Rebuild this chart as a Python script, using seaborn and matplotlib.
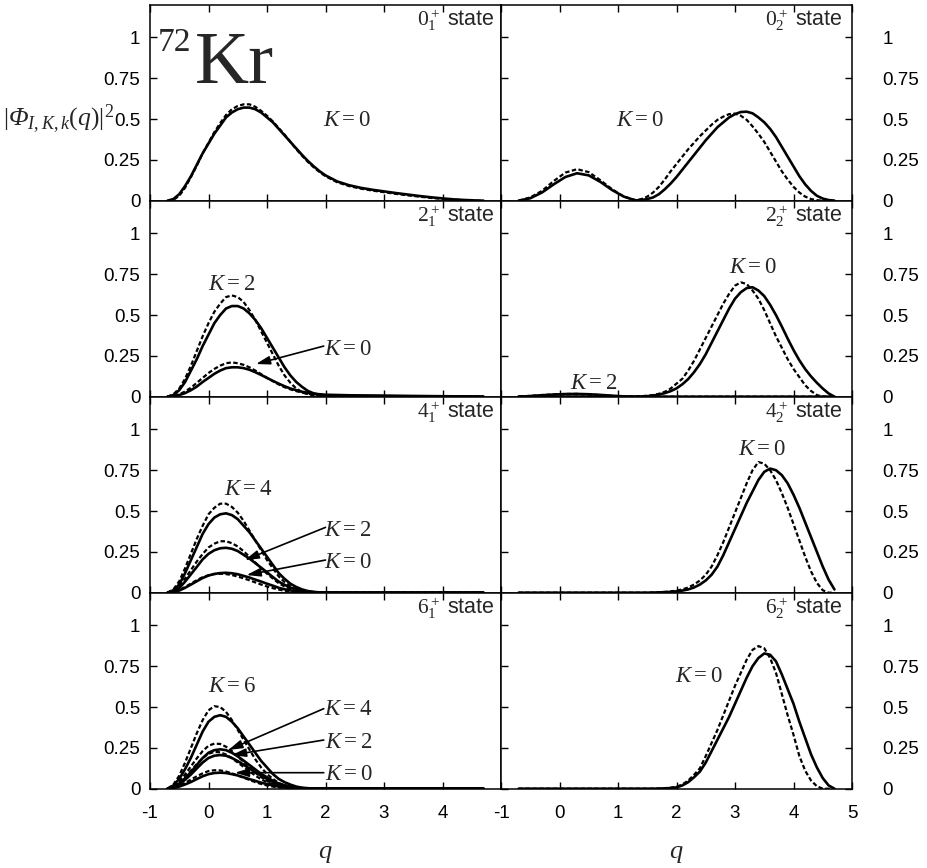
import matplotlib
matplotlib.use("Agg")
import matplotlib.pyplot as plt
import seaborn as sns

# ---------------- data ----------------
Q_TOP = [-0.7, -0.6, -0.5, -0.4, -0.3, -0.2, -0.1, 0.0, 0.1, 0.2,
         0.3, 0.4, 0.5, 0.6, 0.7, 0.8, 0.9, 1.0, 1.1, 1.2,
         1.3, 1.4, 1.5, 1.6, 1.7, 1.8, 1.9, 2.0,
         2.2, 2.4, 2.6, 2.8, 3.0, 3.2, 3.4, 3.6, 3.8, 4.0, 4.2, 4.4, 4.6,
         4.7]
Q_LOW = [-0.7, -0.6, -0.5, -0.4, -0.3, -0.2, -0.1, 0.0, 0.1, 0.2,
         0.3, 0.4, 0.5, 0.6, 0.7, 0.8, 0.9, 1.0, 1.1, 1.2,
         1.3, 1.4, 1.5, 1.6, 1.7, 1.8, 1.9, 2.0,
         2.5, 3.0, 3.5, 4.0, 4.5, 4.7]
Q_R = [-0.7, -0.5, -0.3, -0.1, 0.1, 0.3, 0.5, 0.7, 0.9, 1.1, 1.3,
       1.4, 1.5, 1.6, 1.7, 1.8, 1.9,
       2.0, 2.1, 2.2, 2.3, 2.4, 2.5, 2.6, 2.7, 2.8, 2.9,
       3.0, 3.1, 3.2, 3.3, 3.4, 3.5, 3.6, 3.7, 3.8, 3.9,
       4.0, 4.1, 4.2, 4.3, 4.4, 4.5, 4.6, 4.7]
Q_K2 = [-0.7, -0.5, -0.3, -0.1, 0.1, 0.3, 0.5, 0.7, 0.9, 1.1, 1.3, 2.0, 3.0, 4.0, 4.7]

# 0+_1 state
P01_SOLID = [0, 0.01, 0.04, 0.09, 0.15, 0.22, 0.29, 0.35, 0.41, 0.46,
             0.51, 0.54, 0.56, 0.57, 0.57, 0.56, 0.54, 0.51, 0.48, 0.44,
             0.40, 0.36, 0.32, 0.28, 0.243, 0.21, 0.18, 0.155,
             0.118, 0.095, 0.079, 0.067, 0.057, 0.047, 0.038, 0.029, 0.021, 0.014, 0.008, 0.004, 0.001,
             0]
P01_DASH = [0, 0.005, 0.03, 0.08, 0.145, 0.215, 0.29, 0.355, 0.42, 0.475,
            0.525, 0.56, 0.58, 0.59, 0.59, 0.575, 0.55, 0.52, 0.485, 0.445,
            0.405, 0.36, 0.315, 0.275, 0.237, 0.204, 0.175, 0.15,
            0.113, 0.09, 0.074, 0.062, 0.052, 0.042, 0.033, 0.025, 0.017, 0.011, 0.006, 0.002, 0,
            0]
# 2+_1 state
P21_K2_SOLID = [0, 0.01, 0.04, 0.09, 0.16, 0.23, 0.31, 0.38, 0.45, 0.50,
                0.54, 0.555, 0.555, 0.54, 0.51, 0.47, 0.42, 0.36, 0.30, 0.24,
                0.18, 0.13, 0.09, 0.06, 0.035, 0.02, 0.012, 0.008,
                0.005, 0.004, 0.003, 0.002, 0.001, 0]
P21_K2_DASH = [0, 0.015, 0.05, 0.11, 0.19, 0.28, 0.37, 0.45, 0.52, 0.57,
               0.61, 0.62, 0.61, 0.58, 0.53, 0.47, 0.40, 0.33, 0.26, 0.19,
               0.13, 0.085, 0.05, 0.028, 0.015, 0.008, 0.005, 0.004,
               0.003, 0.002, 0.001, 0.001, 0, 0]
P21_K0_SOLID = [0, 0.003, 0.01, 0.022, 0.04, 0.062, 0.09, 0.115, 0.14, 0.16,
                0.175, 0.18, 0.18, 0.175, 0.165, 0.15, 0.133, 0.115, 0.097, 0.08,
                0.064, 0.05, 0.04, 0.03, 0.024, 0.018, 0.015, 0.012,
                0.008, 0.006, 0.004, 0.003, 0.001, 0]
P21_K0_DASH = [0, 0.004, 0.015, 0.032, 0.055, 0.085, 0.115, 0.145, 0.17, 0.19,
               0.205, 0.21, 0.205, 0.195, 0.18, 0.16, 0.138, 0.115, 0.095, 0.075,
               0.058, 0.045, 0.034, 0.025, 0.018, 0.013, 0.01, 0.008,
               0.005, 0.004, 0.003, 0.002, 0.001, 0]
# 4+_1 state
P41_K4_SOLID = [0, 0.015, 0.05, 0.12, 0.2, 0.28, 0.36, 0.42, 0.46, 0.48,
                0.486, 0.475, 0.45, 0.41, 0.37, 0.32, 0.27, 0.22, 0.17, 0.12,
                0.085, 0.055, 0.035, 0.02, 0.01, 0.005, 0.002, 0.001,
                0, 0, 0, 0, 0, 0]
P41_K4_DASH = [0, 0.02, 0.07, 0.15, 0.24, 0.33, 0.41, 0.48, 0.52, 0.545,
               0.545, 0.525, 0.49, 0.44, 0.38, 0.32, 0.26, 0.2, 0.15, 0.1,
               0.065, 0.04, 0.022, 0.011, 0.005, 0.002, 0.001, 0,
               0, 0, 0, 0, 0, 0]
P41_K2_SOLID = [0, 0.008, 0.028, 0.068, 0.113, 0.158, 0.204, 0.238, 0.26, 0.272,
                0.275, 0.269, 0.255, 0.232, 0.209, 0.181, 0.153, 0.125, 0.096, 0.068,
                0.048, 0.031, 0.02, 0.011, 0.006, 0.003, 0.001, 0,
                0, 0, 0, 0, 0, 0]
P41_K2_DASH = [0, 0.012, 0.04, 0.087, 0.139, 0.191, 0.237, 0.277, 0.3, 0.315,
               0.315, 0.303, 0.283, 0.254, 0.22, 0.185, 0.15, 0.116, 0.087, 0.058,
               0.038, 0.023, 0.013, 0.006, 0.003, 0.001, 0, 0,
               0, 0, 0, 0, 0, 0]
P41_K0_SOLID = [0, 0.004, 0.013, 0.03, 0.05, 0.07, 0.09, 0.105, 0.115, 0.12,
                0.122, 0.119, 0.113, 0.103, 0.093, 0.08, 0.068, 0.055, 0.043, 0.03,
                0.021, 0.014, 0.009, 0.005, 0.003, 0.001, 0, 0,
                0, 0, 0, 0, 0, 0]
P41_K0_DASH = [0, 0.005, 0.016, 0.035, 0.056, 0.077, 0.095, 0.107, 0.114, 0.116,
               0.114, 0.108, 0.099, 0.088, 0.076, 0.063, 0.05, 0.038, 0.028, 0.019,
               0.012, 0.007, 0.004, 0.002, 0.001, 0, 0, 0,
               0, 0, 0, 0, 0, 0]
# 6+_1 state
P61_K6_SOLID = [0, 0.02, 0.06, 0.12, 0.19, 0.27, 0.35, 0.41, 0.44, 0.45,
                0.44, 0.41, 0.37, 0.32, 0.27, 0.22, 0.17, 0.13, 0.09, 0.06,
                0.04, 0.025, 0.013, 0.006, 0.003, 0.001, 0, 0,
                0, 0, 0, 0, 0, 0]
P61_K6_DASH = [0, 0.025, 0.08, 0.16, 0.25, 0.34, 0.42, 0.48, 0.505, 0.5,
               0.47, 0.42, 0.36, 0.3, 0.24, 0.18, 0.13, 0.09, 0.06, 0.035,
               0.02, 0.01, 0.004, 0.001, 0, 0, 0, 0,
               0, 0, 0, 0, 0, 0]
P61_K4_SOLID = [0, 0.011, 0.032, 0.064, 0.102, 0.145, 0.188, 0.22, 0.236, 0.241,
                0.236, 0.22, 0.198, 0.172, 0.145, 0.118, 0.091, 0.07, 0.048, 0.032,
                0.021, 0.013, 0.007, 0.003, 0.002, 0.001, 0, 0,
                0, 0, 0, 0, 0, 0]
P61_K4_DASH = [0, 0.014, 0.044, 0.088, 0.137, 0.186, 0.23, 0.263, 0.276, 0.274,
               0.257, 0.23, 0.197, 0.164, 0.131, 0.098, 0.071, 0.049, 0.033, 0.019,
               0.011, 0.005, 0.002, 0.001, 0, 0, 0, 0,
               0, 0, 0, 0, 0, 0]
P61_K2_SOLID = [0, 0.009, 0.027, 0.055, 0.087, 0.124, 0.16, 0.188, 0.202, 0.206,
                0.202, 0.188, 0.169, 0.147, 0.124, 0.101, 0.078, 0.06, 0.041, 0.027,
                0.018, 0.011, 0.006, 0.003, 0.001, 0, 0, 0,
                0, 0, 0, 0, 0, 0]
P61_K2_DASH = [0, 0.011, 0.036, 0.071, 0.111, 0.151, 0.187, 0.214, 0.225, 0.223,
               0.209, 0.187, 0.16, 0.134, 0.107, 0.08, 0.058, 0.04, 0.027, 0.016,
               0.009, 0.004, 0.002, 0, 0, 0, 0, 0,
               0, 0, 0, 0, 0, 0]
P61_K0_SOLID = [0, 0.004, 0.013, 0.026, 0.041, 0.059, 0.076, 0.089, 0.096, 0.098,
                0.096, 0.089, 0.081, 0.07, 0.059, 0.048, 0.037, 0.028, 0.02, 0.013,
                0.009, 0.005, 0.003, 0.001, 0.001, 0, 0, 0,
                0, 0, 0, 0, 0, 0]
P61_K0_DASH = [0, 0.006, 0.018, 0.036, 0.056, 0.076, 0.094, 0.108, 0.113, 0.112,
               0.105, 0.094, 0.081, 0.067, 0.054, 0.04, 0.029, 0.02, 0.013, 0.008,
               0.004, 0.002, 0.001, 0, 0, 0, 0, 0,
               0, 0, 0, 0, 0, 0]
# 0+_2 state
P02_SOLID = [0, 0.015, 0.05, 0.1, 0.145, 0.168, 0.155, 0.115, 0.065, 0.025, 0.002,
             0.004, 0.01, 0.02, 0.04, 0.07, 0.105,
             0.145, 0.19, 0.235, 0.28, 0.325, 0.37, 0.41, 0.45, 0.48, 0.51,
             0.53, 0.543, 0.545, 0.535, 0.51, 0.48, 0.44, 0.39, 0.33, 0.27,
             0.21, 0.15, 0.1, 0.06, 0.03, 0.013, 0.004, 0]
P02_DASH = [0, 0.02, 0.06, 0.12, 0.172, 0.193, 0.175, 0.125, 0.07, 0.025, 0.003,
            0.01, 0.025, 0.05, 0.085, 0.13, 0.18,
            0.225, 0.27, 0.315, 0.355, 0.395, 0.43, 0.465, 0.495, 0.515, 0.53,
            0.533, 0.52, 0.495, 0.455, 0.41, 0.36, 0.3, 0.24, 0.18, 0.13,
            0.085, 0.05, 0.025, 0.01, 0.003, 0, 0, 0]
# 2+_2 state
P22_K0_SOLID = [0, 0, 0, 0, 0, 0, 0, 0, 0, 0, 0,
                0.001, 0.003, 0.007, 0.013, 0.022, 0.034,
                0.051, 0.076, 0.108, 0.15, 0.2, 0.26, 0.33, 0.4, 0.47, 0.54,
                0.6, 0.64, 0.665, 0.67, 0.65, 0.616, 0.563, 0.5, 0.43, 0.356,
                0.286, 0.223, 0.169, 0.124, 0.085, 0.05, 0.02, 0]
P22_K0_DASH = [0, 0, 0, 0, 0, 0, 0, 0, 0, 0, 0,
               0.003, 0.006, 0.01, 0.018, 0.03, 0.05,
               0.08, 0.11, 0.16, 0.22, 0.29, 0.36, 0.43, 0.5, 0.57, 0.63,
               0.68, 0.70, 0.69, 0.65, 0.6, 0.53, 0.45, 0.37, 0.3, 0.23,
               0.17, 0.12, 0.07, 0.035, 0.01, 0, 0, 0]
P22_K2_SOLID = [0, 0.004, 0.009, 0.013, 0.016, 0.017, 0.015, 0.011, 0.006, 0.002, 0, 0, 0, 0, 0]
P22_K2_DASH = [0, 0.005, 0.01, 0.014, 0.017, 0.017, 0.014, 0.01, 0.005, 0.002, 0, 0, 0, 0, 0]
# 4+_2 state
P42_K0_SOLID = [0, 0, 0, 0, 0, 0, 0, 0, 0, 0, 0,
                0, 0, 0.001, 0.002, 0.003, 0.005,
                0.008, 0.013, 0.02, 0.032, 0.05, 0.075, 0.11, 0.16, 0.23, 0.31,
                0.39, 0.47, 0.55, 0.62, 0.69, 0.74, 0.76, 0.75, 0.72, 0.67,
                0.6, 0.52, 0.43, 0.34, 0.25, 0.16, 0.08, 0.02]
P42_K0_DASH = [0, 0, 0, 0, 0, 0, 0, 0, 0, 0, 0,
               0, 0, 0.001, 0.003, 0.005, 0.008,
               0.013, 0.02, 0.032, 0.05, 0.075, 0.11, 0.16, 0.23, 0.31, 0.4,
               0.49, 0.58, 0.67, 0.75, 0.8, 0.79, 0.75, 0.69, 0.61, 0.52,
               0.42, 0.32, 0.22, 0.13, 0.06, 0.015, 0, 0]
# 6+_2 state
P62_K0_SOLID = [0, 0, 0, 0, 0, 0, 0, 0, 0, 0, 0,
                0, 0, 0, 0.001, 0.002, 0.004,
                0.008, 0.02, 0.04, 0.07, 0.105, 0.16, 0.23, 0.3, 0.37, 0.44,
                0.52, 0.6, 0.68, 0.75, 0.8, 0.828, 0.82, 0.78, 0.7, 0.61,
                0.52, 0.41, 0.31, 0.21, 0.13, 0.065, 0.02, 0]
P62_K0_DASH = [0, 0, 0, 0, 0, 0, 0, 0, 0, 0, 0,
               0, 0, 0, 0.001, 0.003, 0.006,
               0.012, 0.026, 0.05, 0.085, 0.125, 0.2, 0.28, 0.36, 0.45, 0.54,
               0.63, 0.71, 0.79, 0.85, 0.873, 0.86, 0.8, 0.71, 0.58, 0.45,
               0.33, 0.2, 0.11, 0.05, 0.015, 0, 0, 0]

STATE_LABELS = [r"$0_1^+$ state", r"$0_2^+$ state",
                r"$2_1^+$ state", r"$2_2^+$ state",
                r"$4_1^+$ state", r"$4_2^+$ state",
                r"$6_1^+$ state", r"$6_2^+$ state"]
Y_TICKS = [0, 0.25, 0.5, 0.75, 1]
Y_TICKLABELS = ["0", "0.25", "0.5", "0.75", "1"]
X_TICKS = [-1, 0, 1, 2, 3, 4, 5]
X_TICKLABELS_LEFT = ["-1", "0", "1", "2", "3", "4", ""]
X_TICKLABELS_RIGHT = ["-1", "0", "1", "2", "3", "4", "5"]

# ---------------- styling ----------------
sns.set_style("ticks")
plt.rcParams['font.family'] = ['Liberation Sans', 'DejaVu Sans']
plt.rcParams['mathtext.fontset'] = 'custom'
plt.rcParams['mathtext.rm'] = 'Liberation Serif'
plt.rcParams['mathtext.it'] = 'Liberation Serif:italic'
plt.rcParams['mathtext.sf'] = 'Liberation Serif:italic'
plt.rcParams['mathtext.bf'] = 'Liberation Serif:bold'

SOLID = dict(linestyle='-', linewidth=1.9)
DASH = dict(linestyle=(0, (2.0, 1.1)), linewidth=1.6)

W, H = 927, 868
fig = plt.figure(figsize=(W / 100, H / 100), dpi=100)


def make_ax(col, row):
    x0 = 150 if col == 0 else 501
    top = 4.7 + 196 * row
    return fig.add_axes([x0 / W, 1 - (top + 196) / H, 351 / W, 196 / H])


panels = [
    # (col, row, curves, state label, texts, arrows)
    (0, 0, [(Q_TOP, P01_SOLID, SOLID), (Q_TOP, P01_DASH, DASH)], STATE_LABELS[0],
     [(2.36, 0.5, r"$K=0$")], []),
    (1, 0, [(Q_R, P02_SOLID, SOLID), (Q_R, P02_DASH, DASH)], STATE_LABELS[1],
     [(1.38, 0.5, r"$K=0$")], []),
    (0, 1, [(Q_LOW, P21_K2_SOLID, SOLID), (Q_LOW, P21_K2_DASH, DASH),
            (Q_LOW, P21_K0_SOLID, SOLID), (Q_LOW, P21_K0_DASH, DASH)], STATE_LABELS[2],
     [(0.40, 0.69, r"$K=2$"), (2.38, 0.296, r"$K=0$")],
     [((1.97, 0.31), (0.81, 0.2))]),
    (1, 1, [(Q_R, P22_K0_SOLID, SOLID), (Q_R, P22_K0_DASH, DASH),
            (Q_K2, P22_K2_SOLID, SOLID), (Q_K2, P22_K2_DASH, DASH)], STATE_LABELS[3],
     [(3.3, 0.80, r"$K=0$"), (0.58, 0.09, r"$K=2$")], []),
    (0, 2, [(Q_LOW, P41_K4_SOLID, SOLID), (Q_LOW, P41_K4_DASH, DASH),
            (Q_LOW, P41_K2_SOLID, SOLID), (Q_LOW, P41_K2_DASH, DASH),
            (Q_LOW, P41_K0_SOLID, SOLID), (Q_LOW, P41_K0_DASH, DASH)], STATE_LABELS[4],
     [(0.68, 0.64, r"$K=4$"), (2.38, 0.39, r"$K=2$"), (2.38, 0.19, r"$K=0$")],
     [((2.0, 0.40), (0.62, 0.2)), ((2.0, 0.2), (0.65, 0.108))]),
    (1, 2, [(Q_R, P42_K0_SOLID, SOLID), (Q_R, P42_K0_DASH, DASH)], STATE_LABELS[5],
     [(3.45, 0.885, r"$K=0$")], []),
    (0, 3, [(Q_LOW, P61_K6_SOLID, SOLID), (Q_LOW, P61_K6_DASH, DASH),
            (Q_LOW, P61_K4_SOLID, SOLID), (Q_LOW, P61_K4_DASH, DASH),
            (Q_LOW, P61_K2_SOLID, SOLID), (Q_LOW, P61_K2_DASH, DASH),
            (Q_LOW, P61_K0_SOLID, SOLID), (Q_LOW, P61_K0_DASH, DASH)], STATE_LABELS[6],
     [(0.40, 0.634, r"$K=6$"), (2.39, 0.49, r"$K=4$"), (2.39, 0.287, r"$K=2$"),
      (2.39, 0.094, r"$K=0$")],
     [((1.97, 0.49), (0.34, 0.237)), ((1.97, 0.298), (0.40, 0.206)),
      ((1.97, 0.098), (0.45, 0.098))]),
    (1, 3, [(Q_R, P62_K0_SOLID, SOLID), (Q_R, P62_K0_DASH, DASH)], STATE_LABELS[7],
     [(2.38, 0.695, r"$K=0$")], []),
]

for col, row, curves, state, texts, arrows in panels:
    ax = make_ax(col, row)
    for q, vals, style in curves:
        sns.lineplot(x=q, y=vals, ax=ax, color='black', sort=False,
                     estimator=None, **style)
    ax.set_xlim(-1, 5)
    ax.set_ylim(0, 1.2)
    ax.set_xticks(X_TICKS)
    ax.set_yticks(Y_TICKS)
    ax.set_xlabel("")
    ax.set_ylabel("")
    for sp in ax.spines.values():
        sp.set_visible(True)
        sp.set_linewidth(1.1)
        sp.set_color('black')
    ax.tick_params(axis='both', direction='in', length=5, width=1.0,
                   colors='black', labelsize=13.5)
    ax.tick_params(axis='x', top=True, bottom=True, pad=12,
                   labelbottom=(row == 3), labeltop=False)
    if col == 0:
        ax.tick_params(axis='y', left=True, right=False, labelleft=True,
                       labelright=False, pad=7)
        ax.set_yticklabels(Y_TICKLABELS)
        ax.set_xticklabels(X_TICKLABELS_LEFT)
        sx = 0.983
    else:
        ax.tick_params(axis='y', left=True, right=True, labelleft=False,
                       labelright=True, pad=22)
        ax.set_yticklabels(Y_TICKLABELS)
        ax.set_xticklabels(X_TICKLABELS_RIGHT)
        sx = 0.974
    ax.text(sx, 0.985, state, transform=ax.transAxes, ha='right', va='top',
            fontsize=15.5)
    for tx, ty, s in texts:
        ax.text(tx, ty, s, ha='center', va='center', fontsize=16.5)
    for tail, tip in arrows:
        ax.annotate("", xy=tip, xytext=tail,
                    arrowprops=dict(arrowstyle='-|>,head_length=0.6,head_width=0.18',
                                    lw=1.2, color='black', shrinkA=0, shrinkB=0,
                                    mutation_scale=14))
    if row == 3:
        ax.text(0.5, -0.33, r"$q$", transform=ax.transAxes, ha='center',
                va='center', fontsize=19)
    if col == 0 and row == 0:
        ax.text(-1.62, 0.5, r"$|\mathsf{\Phi}_{I,K,k}(q)|^2$", ha='right',
                va='center', fontsize=18.5, clip_on=False)
        ax.text(-0.86, 0.915, "72", fontsize=24, family='Liberation Serif',
                ha='left', va='baseline')
        ax.text(-0.23, 0.72, "Kr", fontsize=54, family='Liberation Serif',
                ha='left', va='baseline')

fig.savefig("out.png", dpi=100)
